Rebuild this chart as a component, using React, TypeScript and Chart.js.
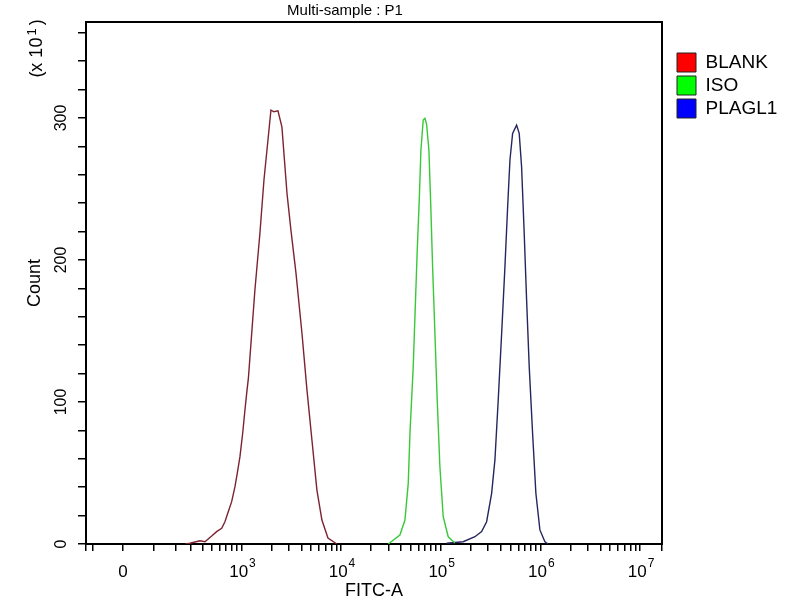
import React, { useEffect, useRef } from 'react';
import { Chart, LinearScale, registerables } from 'chart.js';

// ---------- data ----------
const TITLE = 'Multi-sample : P1';
const X_TITLE = 'FITC-A';
const Y_TITLE = 'Count';
const Y_MULT_BASE = '(x 10';
const Y_MULT_EXP = '1';
const Y_MULT_END = ')';
const SERIES_NAMES = ['BLANK', 'ISO', 'PLAGL1'];
const LINE_COLORS = ['#7d2232', '#38c838', '#26265e'];
const LEGEND_COLORS = ['#ff0000', '#00ff00', '#0000ff'];

const BLANK_X = [260, 292, 374, 422, 496, 558, 629, 679, 734, 795, 859, 906, 965, 1028, 1084, 1128, 1175, 1366, 1535, 1685, 1849, 1981, 2123, 2330, 2553, 2869, 3145, 3535, 4056, 4555, 5109, 5733, 6435, 7397, 9100];
const BLANK_Y = [0, 0.5, 2.3, 1.6, 5.6, 8.7, 11.1, 15.7, 22.7, 29.8, 40.4, 49.8, 61.5, 78, 94.4, 106.1, 117, 178.9, 219, 256.3, 284.5, 305.6, 304.4, 305, 293.7, 247.2, 221, 190.8, 148.6, 108.5, 73.2, 38, 16.9, 4.2, 0];

const ISO_X = [29770, 39000, 43800, 47270, 49200, 53040, 55170, 58200, 60950, 63360, 66800, 69500, 72200, 76170, 79240, 82970, 87490, 92300, 98200, 106000, 119000, 138900];
const ISO_Y = [0, 6.3, 16.9, 42.7, 78.2, 124.9, 160.1, 207, 242, 277.5, 298.6, 299.8, 295.8, 277.5, 242, 195.3, 148.6, 101.4, 54.4, 19.2, 5.1, 0.7];

const PLAGL1_X = [114700, 168100, 220600, 257400, 289000, 324400, 350000, 377800, 408900, 441100, 469600, 495300, 526700, 577400, 613400, 648000, 688300, 727600, 772800, 835500, 901500, 989300, 1110800, 1198000];
const PLAGL1_Y = [0.5, 1.6, 5.1, 8.7, 15.7, 35.7, 59.2, 101.4, 148.4, 195.3, 237.5, 270.4, 289.2, 295, 289.2, 265.7, 218.8, 171.8, 124.9, 78, 35.7, 9.9, 1.6, 0];

const X_MIN = -125;
const X_MAX = 1.66e7;
const X_MAJOR_TICKS = [0, 1e3, 1e4, 1e5, 1e6, 1e7];
const X_MAJOR_BASES = ['0', '10', '10', '10', '10', '10'];
const X_MAJOR_EXPS = ['', '3', '4', '5', '6', '7'];
const X_MINOR_TICKS = [
  -100,
  100, 200, 300, 400, 500, 600, 700, 800, 900,
  2000, 3000, 4000, 5000, 6000, 7000, 8000, 9000,
  20000, 30000, 40000, 50000, 60000, 70000, 80000, 90000,
  200000, 300000, 400000, 500000, 600000, 700000, 800000, 900000,
  2000000, 3000000, 4000000, 5000000, 6000000, 7000000, 8000000, 9000000,
];

const Y_MAX = 367.6;
const Y_STEP = 20;
const Y_LABEL_STEP = 100;

// biexponential (arcsinh) width parameter of the FITC axis
const BIEX_W = 65;
const tf = (v: number) => Math.asinh(v / (2 * BIEX_W));

class BiexScale extends LinearScale {
  static id = 'biex';
  buildTicks() {
    const all = [X_MIN, ...X_MINOR_TICKS, ...X_MAJOR_TICKS, X_MAX].sort((a, b) => a - b);
    return all.map((v) => ({ value: v }));
  }
  getPixelForValue(value: number) {
    if (value === null || value === undefined || isNaN(value)) return NaN;
    const a = tf(this.min);
    const b = tf(this.max);
    return this.getPixelForDecimal((tf(value) - a) / (b - a));
  }
  getValueForPixel(pixel: number) {
    const a = tf(this.min);
    const b = tf(this.max);
    const d = this.getDecimalForPixel(pixel);
    return 2 * BIEX_W * Math.sinh(a + d * (b - a));
  }
}

Chart.register(...registerables, BiexScale);

const FONT = '"Liberation Sans", Arial, sans-serif';

const toPoints = (xs: number[], ys: number[]) => xs.map((x, i) => ({ x, y: ys[i] }));

const decorPlugin = {
  id: 'decor',
  beforeLayout(chart: any) {
    const lg = chart.legend;
    if (lg && !lg.__patched) {
      const orig = lg.fit;
      lg.fit = function () {
        orig.call(this);
        this.width = 127;
      };
      lg.__patched = true;
    }
  },
  afterDraw(chart: any) {
    const ctx = chart.ctx;
    const xs = chart.scales.x;
    ctx.save();
    ctx.fillStyle = '#000';
    // chart title
    ctx.font = `15px ${FONT}`;
    ctx.textAlign = 'center';
    ctx.textBaseline = 'alphabetic';
    ctx.fillText(TITLE, 345, 15);

    // x tick labels with superscript exponents
    const baseFont = `17px ${FONT}`;
    const expFont = `12px ${FONT}`;
    const baseY = xs.top + 33;
    ctx.textAlign = 'left';
    X_MAJOR_TICKS.forEach((v, i) => {
      const px = xs.getPixelForValue(v);
      ctx.font = baseFont;
      const w1 = ctx.measureText(X_MAJOR_BASES[i]).width;
      ctx.font = expFont;
      const w2 = X_MAJOR_EXPS[i] ? ctx.measureText(X_MAJOR_EXPS[i]).width + 1 : 0;
      const start = px - (w1 + w2) / 2 + (w2 ? 1 : 0);
      ctx.font = baseFont;
      ctx.fillText(X_MAJOR_BASES[i], start, baseY);
      if (X_MAJOR_EXPS[i]) {
        ctx.font = expFont;
        ctx.fillText(X_MAJOR_EXPS[i], start + w1 + 1, baseY - 10);
      }
    });

    // (x 10^1) multiplier, rotated
    ctx.translate(37, 48.5);
    ctx.rotate(-Math.PI / 2);
    ctx.textBaseline = 'middle';
    const f1 = `18px ${FONT}`;
    const f2 = `13px ${FONT}`;
    ctx.font = f1;
    const a = ctx.measureText(Y_MULT_BASE).width;
    const c = ctx.measureText(Y_MULT_END).width;
    ctx.font = f2;
    const b = ctx.measureText(Y_MULT_EXP).width;
    const total = a + 2 + b + 3 + c;
    let cx = -total / 2;
    ctx.font = f1;
    ctx.fillText(Y_MULT_BASE, cx, 0);
    cx += a + 2;
    ctx.font = f2;
    ctx.fillText(Y_MULT_EXP, cx, -5);
    cx += b + 3;
    ctx.font = f1;
    ctx.fillText(Y_MULT_END, cx, 0);
    ctx.restore();
  },
};

export default function App() {
  const ref = useRef<HTMLCanvasElement>(null);
  useEffect(() => {
    document.body.style.margin = '0';
    const canvas = ref.current;
    if (!canvas) return;
    Chart.defaults.font.family = FONT;
    Chart.defaults.color = '#000';
    const series = [
      toPoints(BLANK_X, BLANK_Y),
      toPoints(ISO_X, ISO_Y),
      toPoints(PLAGL1_X, PLAGL1_Y),
    ];
    const chart = new Chart(canvas, {
      type: 'line',
      data: {
        datasets: series.map((data, i) => ({
          label: SERIES_NAMES[i],
          data,
          xAxisID: 'x',
          yAxisID: 'y',
          borderColor: LINE_COLORS[i],
          backgroundColor: LEGEND_COLORS[i],
          borderWidth: 1.4,
          pointRadius: 0,
          fill: false,
          tension: 0,
        })),
      },
      options: {
        animation: false,
        responsive: false,
        layout: { padding: 0 },
        plugins: {
          tooltip: { enabled: false },
          title: { display: false },
          legend: {
            display: true,
            position: 'right',
            align: 'start',
            title: { display: true, text: ' ', font: { size: 10 }, padding: { top: 37, bottom: 0 } },
            labels: {
              boxWidth: 19,
              boxHeight: 19,
              padding: 4,
              color: '#000',
              font: { size: 19, family: FONT },
              generateLabels: (c: any) => {
                const items = (Chart.defaults.plugins.legend.labels as any).generateLabels(c);
                return items.map((it: any, i: number) => ({
                  ...it,
                  fillStyle: LEGEND_COLORS[i],
                  strokeStyle: '#222',
                  lineWidth: 1,
                }));
              },
            },
          },
        },
        scales: {
          x: {
            type: 'biex' as any,
            position: 'bottom',
            min: X_MIN,
            max: X_MAX,
            afterFit: (s: any) => { s.height = 56; },
            border: { display: true, color: '#000', width: 2 },
            grid: { display: true, drawOnChartArea: false, drawTicks: true, tickLength: 7, color: '#000', lineWidth: 1.5 },
            ticks: {
              autoSkip: false,
              minRotation: 0,
              maxRotation: 0,
              padding: 11,
              font: { size: 17 },
              color: '#000',
              callback: () => '',
            },
            title: { display: true, text: X_TITLE, font: { size: 18, lineHeight: 1 }, color: '#000', padding: { top: 0, bottom: 0 } },
          },
          xT: {
            type: 'linear',
            position: 'top',
            afterFit: (s: any) => { s.height = 22; },
            border: { display: true, color: '#000', width: 2 },
            grid: { display: false },
            ticks: { display: false },
          },
          y: {
            type: 'linear',
            position: 'left',
            min: 0,
            max: Y_MAX,
            afterFit: (s: any) => { s.width = 86; },
            border: { display: true, color: '#000', width: 2 },
            grid: { display: true, drawOnChartArea: false, drawTicks: true, tickLength: 8, color: '#000', lineWidth: 1.5 },
            ticks: {
              stepSize: Y_STEP,
              includeBounds: false,
              autoSkip: false,
              minRotation: 90,
              maxRotation: 90,
              crossAlign: 'center',
              padding: 2.7,
              font: { size: 16 },
              color: '#000',
              callback: (v: any) => (Number(v) % Y_LABEL_STEP === 0 ? String(v) : ''),
            },
            title: { display: true, text: Y_TITLE, font: { size: 18, lineHeight: 1 }, color: '#000', padding: { top: 26.5, bottom: 0 } },
          },
          yR: {
            type: 'linear',
            position: 'right',
            afterFit: (s: any) => { s.width = 11; },
            border: { display: true, color: '#000', width: 2 },
            grid: { display: false },
            ticks: { display: false },
          },
        },
      } as any,
      plugins: [decorPlugin],
    });
    return () => chart.destroy();
  }, []);
  return (
    <div style={{ width: 800, height: 600 }}>
      <canvas ref={ref} width={800} height={600} style={{ display: 'block' }} />
    </div>
  );
}
